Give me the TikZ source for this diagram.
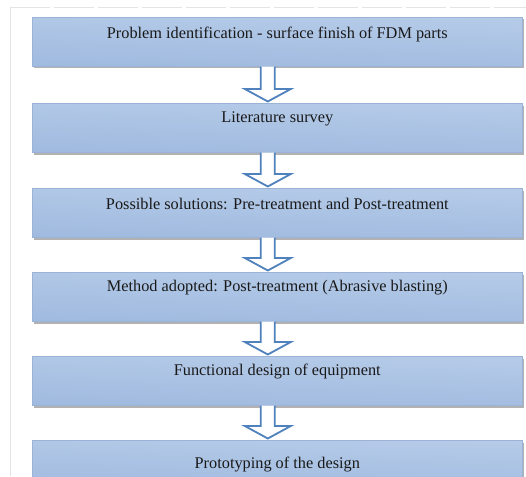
\documentclass[tikz,border=0pt]{standalone}
\usepackage{fontspec}
\setmainfont{Liberation Serif}
\usetikzlibrary{calc,shadows}
\definecolor{boxtop}{HTML}{B5CBE8}
\definecolor{boxmid}{HTML}{E3EBF6}
\definecolor{boxbot}{HTML}{A0BADF}
\definecolor{boxline}{HTML}{9AB3D6}
\definecolor{arrowblue}{HTML}{4F81BD}
\definecolor{framegray}{HTML}{E4E4E4}
\tikzset{
  stepbox/.style={rectangle, draw=boxline, line width=0.6pt,
    top color=boxtop, middle color=boxmid, bottom color=boxbot, shading angle=-1.5,
    minimum width=490pt, minimum height=49pt, inner sep=0pt, anchor=north west,
    drop shadow={shadow xshift=1.2pt, shadow yshift=-2.2pt, opacity=0.55, fill=black!55}},
  steptext/.style={font=\fontsize{16.3}{18}\selectfont, text=black!90, inner sep=0pt},
  blockarrow/.style={draw=arrowblue, line width=1.8pt, fill=white, line join=miter}
}
\newcommand{\blockarr}[2]{%
  \path[blockarrow]
    ($(#1.south)+(-16.5,0)$) -- ($(#2.north)+(-16.5,-14)$) -- ($(#2.north)+(-32.5,-14)$)
    -- ($(#2.north)+(-9.5,-1.5)$) -- ($(#2.north)+(13.5,-14)$) -- ($(#2.north)+(-2.5,-14)$)
    -- ($(#1.south)+(-2.5,0)$);}
\begin{document}
\begin{tikzpicture}[x=1pt,y=-1pt]
\useasboundingbox (0,0) rectangle (526,476);
% faint page frame
\draw[framegray, line width=0.8pt, dash pattern=on 40pt off 4pt] (10,7) -- (526,7);
\draw[framegray, line width=0.8pt] (10,7) -- (10,476);
% boxes
\node[stepbox] (b1) at (32,17) {};
\node[stepbox] (b2) at (32,103) {};
\node[stepbox] (b3) at (32,188) {};
\node[stepbox] (b4) at (32,272) {};
\node[stepbox] (b5) at (32,356) {};
\node[stepbox] (b6) at (32,440) {};
% arrows
\blockarr{b1}{b2}
\blockarr{b2}{b3}
\blockarr{b3}{b4}
\blockarr{b4}{b5}
\blockarr{b5}{b6}
% texts
\node[steptext] (t1) at ($(b1.north)+(0,17)$) {Problem identification - surface finish of FDM parts};
\node[steptext] (t2) at ($(b2.north)+(0,16)$) {Literature survey};
\node[steptext] (t3) at ($(b3.north)+(0,16)$) {Possible solutions: Pre-treatment and Post-treatment};
\node[steptext] (t4) at ($(b4.north)+(0,16)$) {Method adopted: Post-treatment (Abrasive blasting)};
\node[steptext] (t5) at ($(b5.north)+(0,16)$) {Functional design of equipment};
\node[steptext] (t6) at ($(b6.north)+(0,25)$) {Prototyping of the design};
\end{tikzpicture}
\end{document}
